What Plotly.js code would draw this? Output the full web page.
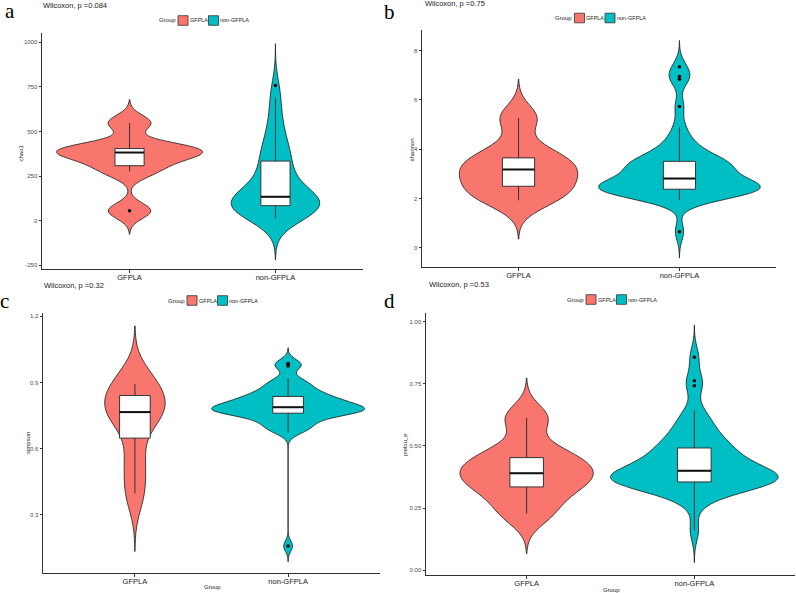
<!DOCTYPE html>
<html>
<head>
<meta charset="utf-8">
<script src="https://cdn.plot.ly/plotly-3.0.1.min.js"></script>
<style>
  html, body { margin: 0; padding: 0; background: #ffffff; }
  #chart { width: 796px; height: 593px; }
</style>
</head>
<body>
<div id="chart"></div>
<script>
// ---- groups and labels ----
const groups = ['GFPLA', 'non-GFPLA'];
const groupColors = ['#F8766D', '#00BFC4'];
const metrics = ['chao1', 'shannon', 'simpson', 'pielou_e'];
const pValues = ['0.084', '0.75', '0.32', '0.53'];
const panelLetters = ['a', 'b', 'c', 'd'];

// ---- alpha-diversity values per sample ----
const chao1GFPLA = [55, 276, 340, 382, 398, 410, 548];
const chao1NonGFPLA = [
  16, 18, 22, 28, 35, 43, 52, 60, 68, 75, 80, 84,
  88, 92, 96, 100, 104, 108, 113, 118, 123, 128, 134,
  145, 158, 172, 188, 205, 224, 245, 268, 292, 313, 334,
  350, 370, 395, 420, 450, 480, 520, 570, 630, 691, 757
];

const shannonGFPLA = [1.93, 2.30, 2.70, 3.18, 3.40, 3.90, 5.27];
const shannonNonGFPLA = [
  0.66,
  1.93, 2.02, 2.10, 2.16, 2.21, 2.25, 2.28, 2.31, 2.34, 2.36, 2.38,
  2.41, 2.44, 2.47, 2.50, 2.53, 2.56, 2.60, 2.65, 2.70, 2.75, 2.81,
  2.90, 3.00, 3.09, 3.17, 3.24, 3.30, 3.36, 3.41, 3.45, 3.48, 3.51,
  3.60, 3.72, 3.86, 4.02, 4.20, 4.45, 4.90,
  5.73, 6.84, 6.95, 7.34
];

const simpsonGFPLA = [0.398, 0.550, 0.746, 0.766, 0.790, 0.892, 0.893];
const simpsonNonGFPLA = [
  0.159,
  0.675, 0.685, 0.695, 0.705, 0.715, 0.725, 0.735, 0.745, 0.752, 0.757, 0.761,
  0.764, 0.767, 0.770, 0.772, 0.775, 0.777, 0.779, 0.781, 0.783, 0.786, 0.788,
  0.792, 0.796, 0.800, 0.805, 0.810, 0.815, 0.820, 0.825, 0.830, 0.834, 0.837,
  0.845, 0.853, 0.862, 0.872, 0.882, 0.893, 0.905, 0.917,
  0.975, 0.981, 0.986
];

const pielouGFPLA = [0.227, 0.310, 0.360, 0.390, 0.430, 0.476, 0.613];
const pielouNonGFPLA = [
  0.159, 0.270, 0.300, 0.320, 0.330, 0.338, 0.343, 0.347, 0.350, 0.352, 0.354, 0.355,
  0.360, 0.364, 0.368, 0.372, 0.376, 0.380, 0.384, 0.388, 0.392, 0.396, 0.400,
  0.405, 0.412, 0.420, 0.430, 0.440, 0.450, 0.460, 0.470, 0.478, 0.486, 0.492,
  0.505, 0.520, 0.535, 0.550, 0.570, 0.590, 0.615, 0.644,
  0.743, 0.763, 0.858
];

const metricData = [
  [chao1GFPLA, chao1NonGFPLA],
  [shannonGFPLA, shannonNonGFPLA],
  [simpsonGFPLA, simpsonNonGFPLA],
  [pielouGFPLA, pielouNonGFPLA]
];

// ---- axis ticks ----
const yTickVals = [
  [-250, 0, 250, 500, 750, 1000],
  [0, 2, 4, 6, 8],
  [0.3, 0.6, 0.9, 1.2],
  [0, 0.25, 0.5, 0.75, 1]
];
const yTickText = [
  ['-250', '0', '250', '500', '750', '1000'],
  ['0', '2', '4', '6', '8'],
  ['0.3', '0.6', '0.9', '1.2'],
  ['0.00', '0.25', '0.50', '0.75', '1.00']
];
const yRanges = [[-271, 1052], [-0.77, 8.83], [0.037, 1.215], [-0.02, 1.036]];

// ---- panel frames in page pixels: plot box and text anchors ----
const W = 796, H = 593;
const frames = [
  { x: [42, 363], y: [33, 269], letter: [10, 11], title: [41, 5.5], legendY: 20.5, ytitle: [20.5, 153], xtitle: null },
  { x: [422, 776], y: [30, 267], letter: [389, 12], title: [423, 4], legendY: 18, ytitle: [411.5, 150], xtitle: null },
  { x: [43, 380], y: [313, 573], letter: [4, 301], title: [42, 285], legendY: 300.5, ytitle: [28, 443], xtitle: [212, 587] },
  { x: [426, 795], y: [313, 575], letter: [389, 301], title: [427, 284], legendY: 299.5, ytitle: [405, 444], xtitle: [611, 589.5] }
];
const px = v => v / W;
const py = v => 1 - v / H;

// ---- statistics (R quantile type 7, bw.nrd0, Tukey whiskers) ----
function quantile(sorted, p) {
  const pos = (sorted.length - 1) * p;
  const lo = Math.floor(pos), hi = Math.ceil(pos);
  return sorted[lo] + (sorted[hi] - sorted[lo]) * (pos - lo);
}
function stdev(a) {
  const m = a.reduce((s, v) => s + v, 0) / a.length;
  return Math.sqrt(a.reduce((s, v) => s + (v - m) * (v - m), 0) / (a.length - 1));
}
function bwNrd0(a) {
  const s = [...a].sort((x, y) => x - y);
  const iqr = quantile(s, 0.75) - quantile(s, 0.25);
  const lo = Math.min(stdev(a), iqr / 1.34);
  return 0.9 * lo * Math.pow(a.length, -0.2);
}
function boxStats(a) {
  const s = [...a].sort((x, y) => x - y);
  const q1 = quantile(s, 0.25), med = quantile(s, 0.5), q3 = quantile(s, 0.75);
  const iqr = q3 - q1;
  const loF = q1 - 1.5 * iqr, hiF = q3 + 1.5 * iqr;
  const inside = s.filter(v => v >= loF && v <= hiF);
  return { q1, med, q3, lo: inside[0], hi: inside[inside.length - 1],
           out: s.filter(v => v < loF || v > hiF) };
}

const FONT = 'Liberation Sans, Arial, sans-serif';
const violins = [], boxes = [], overlays = [];
const layout = {
  width: W, height: H,
  margin: { l: 0, r: 0, t: 0, b: 0 },
  paper_bgcolor: '#ffffff', plot_bgcolor: 'rgba(0,0,0,0)',
  showlegend: false,
  // violins fill the whole category slot; widths within a panel share one density scale
  violinmode: 'overlay', violingap: 0, violingroupgap: 0,
  boxmode: 'overlay',
  font: { family: FONT, color: '#1a1a1a' },
  annotations: [], shapes: []
};

const BOX_WIDTH = 0.2;

metrics.forEach((metric, i) => {
  const suf = i === 0 ? '' : String(i + 1);
  const xa = 'x' + suf, ya = 'y' + suf;
  const f = frames[i];

  metricData[i].forEach((vals, g) => {
    const h = bwNrd0(vals);
    const mn = Math.min(...vals), mx = Math.max(...vals);
    violins.push({
      type: 'violin', name: groups[g], x0: g, y: vals,
      xaxis: xa, yaxis: ya,
      fillcolor: groupColors[g], opacity: 1,
      line: { color: '#1a1a1a', width: 0.8 },
      points: false, box: { visible: false }, meanline: { visible: false },
      bandwidth: h, spanmode: 'manual', span: [mn - 3 * h, mx + 3 * h],
      scalegroup: metric, scalemode: 'width', side: 'both',
      hoverinfo: 'skip', showlegend: false
    });
    const st = boxStats(vals);
    boxes.push({
      type: 'box', x: [g], q1: [st.q1], median: [st.med], q3: [st.q3],
      lowerfence: [st.lo], upperfence: [st.hi],
      xaxis: xa, yaxis: ya, width: BOX_WIDTH,
      fillcolor: '#ffffff', line: { color: '#333333', width: 1 },
      whiskerwidth: 0, boxpoints: false, hoverinfo: 'skip', showlegend: false
    });
    overlays.push({
      type: 'scatter', mode: 'lines', xaxis: xa, yaxis: ya,
      x: [g - BOX_WIDTH / 2, g + BOX_WIDTH / 2], y: [st.med, st.med],
      line: { color: '#111111', width: 2 }, hoverinfo: 'skip', showlegend: false
    });
    if (st.out.length) {
      overlays.push({
        type: 'scatter', mode: 'markers', xaxis: xa, yaxis: ya,
        x: st.out.map(() => g), y: st.out,
        marker: { color: '#000000', size: 3.5 }, hoverinfo: 'skip', showlegend: false
      });
    }
  });

  layout['xaxis' + suf] = {
    domain: [px(f.x[0]), px(f.x[1])], anchor: ya,
    range: [-0.6, 1.6], tickvals: [0, 1], ticktext: groups,
    showline: true, linecolor: '#333333', linewidth: 1,
    ticks: 'outside', ticklen: 3, tickcolor: '#333333', tickwidth: 1,
    ticklabelstandoff: -2,
    tickfont: { family: FONT, size: 7.5, color: '#1a1a1a' },
    showgrid: false, zeroline: false, fixedrange: true
  };
  layout['yaxis' + suf] = {
    domain: [py(f.y[1]), py(f.y[0])], anchor: xa,
    range: yRanges[i], tickvals: yTickVals[i], ticktext: yTickText[i],
    showline: true, linecolor: '#333333', linewidth: 1,
    ticks: 'outside', ticklen: 2.5, tickcolor: '#333333', tickwidth: 1,
    tickfont: { family: FONT, size: 6, color: '#4d4d4d' },
    showgrid: false, zeroline: false, fixedrange: true
  };

  const ann = layout.annotations;
  // panel letter
  ann.push({ text: panelLetters[i], xref: 'paper', yref: 'paper',
    x: px(f.letter[0]), y: py(f.letter[1]), xanchor: 'center', yanchor: 'middle',
    showarrow: false, font: { family: 'Liberation Serif, Times New Roman, serif', size: 21, color: '#000' } });
  // test result
  ann.push({ text: 'Wilcoxon, p =' + pValues[i], xref: 'paper', yref: 'paper',
    x: px(f.title[0]), y: py(f.title[1]), xanchor: 'left', yanchor: 'middle',
    showarrow: false, font: { family: FONT, size: 7.5, color: '#1a1a1a' } });
  // y axis title
  ann.push({ text: metric, xref: 'paper', yref: 'paper', textangle: -90,
    x: px(f.ytitle[0]), y: py(f.ytitle[1]), xanchor: 'center', yanchor: 'middle',
    showarrow: false, font: { family: FONT, size: 6, color: '#1a1a1a' } });
  if (f.xtitle) {
    ann.push({ text: 'Group', xref: 'paper', yref: 'paper',
      x: px(f.xtitle[0]), y: py(f.xtitle[1]), xanchor: 'center', yanchor: 'middle',
      showarrow: false, font: { family: FONT, size: 6, color: '#1a1a1a' } });
  }
  // legend: "Group" + two keyed entries, centred over the panel
  const cx = (f.x[0] + f.x[1]) / 2 + 2;
  const L = cx - 46, ly = f.legendY;
  ann.push({ text: 'Group', xref: 'paper', yref: 'paper', x: px(L - 2), y: py(ly),
    xanchor: 'left', yanchor: 'middle', showarrow: false,
    font: { family: FONT, size: 6, color: '#1a1a1a' } });
  const keyX = [L + 19.5, L + 50];
  const textX = [L + 29, L + 59.5];
  groups.forEach((gname, g) => {
    layout.shapes.push({ type: 'rect', xref: 'paper', yref: 'paper',
      x0: px(keyX[g]), x1: px(keyX[g] + 10), y0: py(ly + 4.8), y1: py(ly - 4.8),
      fillcolor: groupColors[g], line: { color: '#333333', width: 0.8 } });
    ann.push({ text: gname, xref: 'paper', yref: 'paper', x: px(textX[g]), y: py(ly),
      xanchor: 'left', yanchor: 'middle', showarrow: false,
      font: { family: FONT, size: 5.5, color: '#1a1a1a' } });
  });
});

Plotly.newPlot('chart', [...violins, ...boxes, ...overlays], layout,
  { staticPlot: true, displayModeBar: false });
</script>
</body>
</html>
